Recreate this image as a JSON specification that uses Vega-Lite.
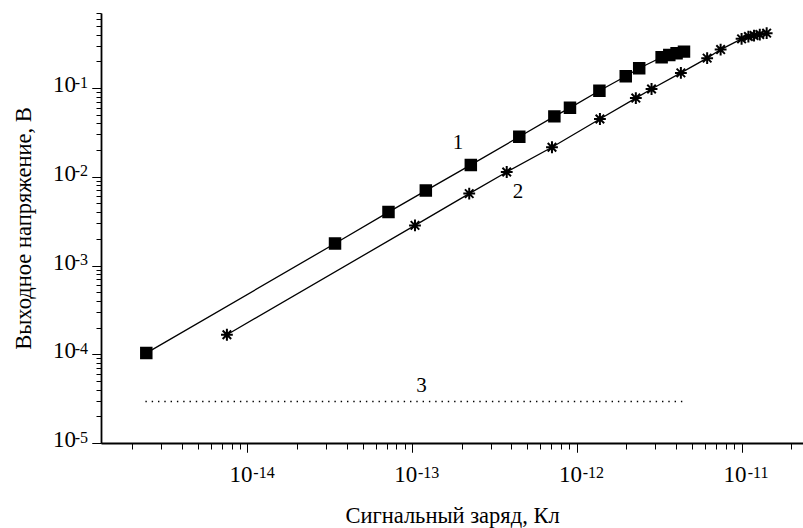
{
  "$schema": "https://vega.github.io/schema/vega-lite/v6.json",
  "autosize": {"type": "none"},
  "padding": {"left": 101, "top": 13, "right": 0, "bottom": 85},
  "width": 702,
  "height": 430,
  "background": "white",
  "config": {"view": {"stroke": null}},
  "datasets": {
    "pts": [
      {"s": "1", "q": 2.43e-15, "u": 1.03e-4},
      {"s": "1", "q": 3.40e-14, "u": 1.77e-3},
      {"s": "1", "q": 7.18e-14, "u": 4.0e-3},
      {"s": "1", "q": 1.21e-13, "u": 6.98e-3},
      {"s": "1", "q": 2.27e-13, "u": 0.0136},
      {"s": "1", "q": 4.47e-13, "u": 0.0282},
      {"s": "1", "q": 7.30e-13, "u": 0.0479},
      {"s": "1", "q": 9.08e-13, "u": 0.0598},
      {"s": "1", "q": 1.37e-12, "u": 0.093},
      {"s": "1", "q": 1.98e-12, "u": 0.1355},
      {"s": "1", "q": 2.39e-12, "u": 0.167},
      {"s": "1", "q": 3.27e-12, "u": 0.222},
      {"s": "1", "q": 3.64e-12, "u": 0.236},
      {"s": "1", "q": 4.03e-12, "u": 0.247},
      {"s": "1", "q": 4.47e-12, "u": 0.257},
      {"s": "2", "q": 7.5e-15, "u": 1.66e-4},
      {"s": "2", "q": 1.04e-13, "u": 2.83e-3},
      {"s": "2", "q": 2.22e-13, "u": 6.46e-3},
      {"s": "2", "q": 3.75e-13, "u": 0.0113},
      {"s": "2", "q": 7.06e-13, "u": 0.0215},
      {"s": "2", "q": 1.38e-12, "u": 0.0447},
      {"s": "2", "q": 2.28e-12, "u": 0.077},
      {"s": "2", "q": 2.84e-12, "u": 0.0975},
      {"s": "2", "q": 4.28e-12, "u": 0.148},
      {"s": "2", "q": 6.18e-12, "u": 0.217},
      {"s": "2", "q": 7.46e-12, "u": 0.271},
      {"s": "2", "q": 1.0e-11, "u": 0.358},
      {"s": "2", "q": 1.10e-11, "u": 0.380},
      {"s": "2", "q": 1.19e-11, "u": 0.390},
      {"s": "2", "q": 1.29e-11, "u": 0.400},
      {"s": "2", "q": 1.42e-11, "u": 0.415}
    ],
    "noise": [
      {"q": 2.4e-15, "u": 2.93e-5},
      {"q": 4.5e-12, "u": 2.93e-5}
    ],
    "labels": [
      {"t": "1", "q": 1.90e-13, "u": 0.0239},
      {"t": "2", "q": 4.39e-13, "u": 6.7e-3},
      {"t": "3", "q": 1.14e-13, "u": 4.4e-5}
    ]
  },
  "resolve": {"axis": {"x": "independent", "y": "independent"}},
  "layer": [
    {
      "data": {"name": "pts"},
      "mark": {"type": "line", "color": "black", "strokeWidth": 1.3},
      "encoding": {
        "detail": {"field": "s"},
        "x": {
          "field": "q", "type": "quantitative",
          "scale": {"type": "log", "domain": [1.29e-15, 2.36e-11], "nice": false},
          "axis": {
            "orient": "bottom",
            "grid": false,
            "domainColor": "black",
            "domainWidth": 1.8,
            "title": "Сигнальный заряд, Кл",
            "titleFont": "Liberation Serif",
            "titleFontSize": 22.5,
            "titleFontWeight": "normal",
            "titleColor": "black",
            "titleBaseline": "alphabetic",
            "titleY": 79,
            "values": [1e-14, 1e-13, 1e-12, 1e-11],
            "tickColor": "black",
            "tickSize": 9,
            "labelFont": "Liberation Serif",
            "labelColor": "black",
            "labelFontSize": 23,
            "labelBaseline": "alphabetic",
            "labelPadding": 29,
            "labelOffset": -7,
            "labelExpr": "'10'"
          }
        },
        "y": {
          "field": "u", "type": "quantitative",
          "scale": {"type": "log", "domain": [1e-5, 0.7], "nice": false},
          "axis": {
            "orient": "left",
            "grid": false,
            "domainColor": "black",
            "domainWidth": 1.8,
            "title": "Выходное напряжение, В",
            "titleFont": "Liberation Serif",
            "titleFontSize": 22.5,
            "titleFontWeight": "normal",
            "titleColor": "black",
            "titleBaseline": "alphabetic",
            "titleX": -70.5,
            "values": [1e-5, 1e-4, 1e-3, 1e-2, 0.1],
            "tickColor": "black",
            "tickSize": 9,
            "labelFlush": false,
            "labelFont": "Liberation Serif",
            "labelColor": "black",
            "labelFontSize": 23,
            "labelBaseline": "alphabetic",
            "labelAlign": "right",
            "labelPadding": 16.5,
            "labelOffset": 3.7,
            "labelExpr": "'10'"
          }
        }
      }
    },
    {
      "data": {"name": "noise"},
      "mark": {"type": "line", "color": "black", "strokeWidth": 1.4, "strokeDash": [1.4, 4.9]},
      "encoding": {
        "x": {
          "field": "q", "type": "quantitative",
          "scale": {"type": "log", "domain": [1.29e-15, 2.36e-11], "nice": false},
          "axis": {
            "orient": "bottom",
            "grid": false,
            "title": null,
            "domain": false,
            "tickColor": "black",
            "tickSize": 9,
            "values": [1e-14, 1e-13, 1e-12, 1e-11],
            "labelFont": "Liberation Serif",
            "labelColor": "black",
            "labelFontSize": 16,
            "labelBaseline": "alphabetic",
            "labelPadding": 25,
            "labelOffset": 16,
            "labelExpr": "'-' + abs(round(log(datum.value)/LN10))"
          }
        },
        "y": {
          "field": "u", "type": "quantitative",
          "scale": {"type": "log", "domain": [1e-5, 0.7], "nice": false},
          "axis": {
            "orient": "left",
            "grid": false,
            "title": null,
            "domain": false,
            "tickColor": "black",
            "tickSize": 9,
            "labelFlush": false,
            "values": [1e-5, 1e-4, 1e-3, 1e-2, 0.1],
            "labelFont": "Liberation Serif",
            "labelColor": "black",
            "labelFontSize": 16,
            "labelBaseline": "alphabetic",
            "labelAlign": "right",
            "labelPadding": 4.4,
            "labelOffset": -1,
            "labelExpr": "'-' + abs(round(log(datum.value)/LN10))"
          }
        }
      }
    },
    {
      "data": {"name": "pts"},
      "mark": {"type": "point", "filled": true, "fill": "black", "stroke": "black", "strokeWidth": 2, "opacity": 1},
      "encoding": {
        "x": {
          "field": "q", "type": "quantitative",
          "scale": {"type": "log", "domain": [1.29e-15, 2.36e-11], "nice": false},
          "axis": {
            "orient": "bottom",
            "grid": false,
            "title": null,
            "domain": false,
            "labels": false,
            "tickColor": "black",
            "tickSize": 6,
            "values": [2e-15, 3e-15, 4e-15, 5e-15, 6e-15, 7e-15, 8e-15, 9e-15,
                       2e-14, 3e-14, 4e-14, 5e-14, 6e-14, 7e-14, 8e-14, 9e-14,
                       2e-13, 3e-13, 4e-13, 5e-13, 6e-13, 7e-13, 8e-13, 9e-13,
                       2e-12, 3e-12, 4e-12, 5e-12, 6e-12, 7e-12, 8e-12, 9e-12,
                       2e-11]
          }
        },
        "y": {
          "field": "u", "type": "quantitative",
          "scale": {"type": "log", "domain": [1e-5, 0.7], "nice": false},
          "axis": {
            "orient": "left",
            "grid": false,
            "title": null,
            "domain": false,
            "labels": false,
            "tickColor": "black",
            "tickSize": 5,
            "values": [2e-5, 3e-5, 4e-5, 5e-5, 6e-5, 7e-5, 8e-5, 9e-5,
                       2e-4, 3e-4, 4e-4, 5e-4, 6e-4, 7e-4, 8e-4, 9e-4,
                       2e-3, 3e-3, 4e-3, 5e-3, 6e-3, 7e-3, 8e-3, 9e-3,
                       2e-2, 3e-2, 4e-2, 5e-2, 6e-2, 7e-2, 8e-2, 9e-2,
                       0.2, 0.3, 0.4, 0.5, 0.6, 0.7]
          }
        },
        "shape": {
          "field": "s",
          "type": "nominal",
          "legend": null,
          "scale": {"domain": ["1", "2"], "range": ["square", "M-1,0L1,0M0,-1L0,1M-0.72,-0.72L0.72,0.72M-0.72,0.72L0.72,-0.72"]}
        },
        "size": {
          "field": "s",
          "type": "nominal",
          "legend": null,
          "scale": {"domain": ["1", "2"], "range": [110, 140]}
        }
      }
    },
    {
      "data": {"name": "labels"},
      "mark": {"type": "text", "font": "Liberation Serif", "fontSize": 21, "color": "black", "align": "center", "baseline": "middle"},
      "encoding": {
        "x": {"field": "q", "type": "quantitative", "scale": {"type": "log", "domain": [1.29e-15, 2.36e-11], "nice": false}, "axis": null},
        "y": {"field": "u", "type": "quantitative", "scale": {"type": "log", "domain": [1e-5, 0.7], "nice": false}, "axis": null},
        "text": {"field": "t"}
      }
    }
  ]
}
